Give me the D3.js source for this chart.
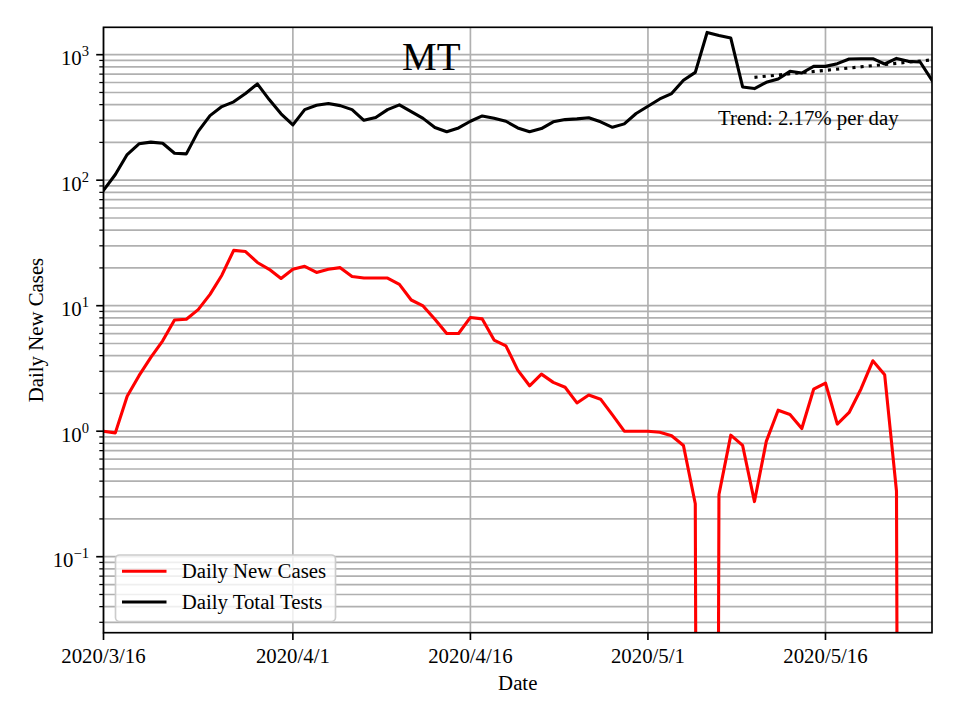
<!DOCTYPE html>
<html>
<head>
<meta charset="utf-8">
<script src="https://cdn.jsdelivr.net/npm/d3@7"></script>
<style>
  html, body { margin: 0; padding: 0; background: #fff; }
  svg { display: block; font-family: "Liberation Serif", "Times New Roman", serif; }
</style>
</head>
<body>
<svg id="chart" width="960" height="720"></svg>
<script>
// ---------------- data ----------------
const startDate = "2020-03-16";
const endDate = "2020-05-25";
const stateName = "MT";

const dailyNewCases = [1.0, 0.97, 1.90, 2.77, 3.88, 5.25, 7.7, 7.8, 9.3, 12.3,
  17.5, 27.6, 27.0, 22.1, 19.5, 16.5, 19.5, 20.6, 18.4, 19.5,
  20.1, 17.1, 16.6, 16.6, 16.6, 14.8, 11.1, 9.96, 7.8, 6.0,
  6.0, 8.06, 7.85, 5.32, 4.79, 3.07, 2.30, 2.85, 2.45, 2.24,
  1.68, 1.94, 1.80, 1.35, 1.0, 1.0, 1.0, 0.98, 0.92, 0.77,
  0.264, 0, 0.313, 0.93, 0.77, 0.275, 0.83, 1.47, 1.36, 1.05,
  2.16, 2.42, 1.14, 1.41, 2.17, 3.64, 2.82, 0.333, 0, 0,
  0];

const dailyTotalTests = [83, 111, 160, 195, 201, 197, 164, 162, 245, 327,
  386, 421, 490, 585, 439, 338, 276, 365, 395, 408,
  393, 365, 300, 316, 365, 398, 352, 311, 263, 243,
  261, 295, 325, 311, 295, 261, 243, 258, 292, 304,
  308, 314, 292, 264, 281, 340, 388, 444, 490, 625,
  723, 1504, 1423, 1358, 553, 537, 602, 641, 737, 715,
  807, 807, 848, 924, 929, 929, 843, 934, 885, 875,
  625];

const trendDates = ["2020-05-10", "2020-05-25"];
const trendValues = [660, 910];
const trendLabel = "Trend: 2.17% per day";

const xTickDates = ["2020-03-16", "2020-04-01", "2020-04-16", "2020-05-01", "2020-05-16"];
const xTickLabels = ["2020/3/16", "2020/4/1", "2020/4/16", "2020/5/1", "2020/5/16"];
const yTickValues = [0.1, 1, 10, 100, 1000];
const yTickExponents = ["\u22121", "0", "1", "2", "3"];

const seriesNames = ["Daily New Cases", "Daily Total Tests"];
const seriesColors = ["#ff0000", "#000000"];

// ---------------- layout ----------------
const parse = d3.utcParse("%Y-%m-%d");
const pL = 103.5, pR = 932, pT = 27.3, pB = 632.7;
const pW = pR - pL, pH = pB - pT;
const FS = 20.8;

const dates = d3.utcDay.range(parse(startDate), d3.utcDay.offset(parse(endDate), 1));

const x = d3.scaleUtc().domain([parse(startDate), parse(endDate)]).range([pL, pR]);
const y = d3.scaleLog().domain([0.0248, 1653]).range([pB, pT]);

const svg = d3.select("#chart");

svg.append("defs").append("clipPath").attr("id", "plotclip")
  .append("rect").attr("x", pL).attr("y", pT).attr("width", pW).attr("height", pH);

// grid lines
const minorVals = [];
for (let k = -2; k <= 3; k++) {
  for (let m = 2; m <= 9; m++) {
    const v = m * Math.pow(10, k);
    if (v >= y.domain()[0] && v <= y.domain()[1]) minorVals.push(v);
  }
}
const grid = svg.append("g").attr("stroke", "#b0b0b0").attr("stroke-width", 1.67);
grid.selectAll(".gy").data(yTickValues.concat(minorVals)).join("line")
  .attr("x1", pL).attr("x2", pR)
  .attr("y1", d => y(d)).attr("y2", d => y(d));
grid.selectAll(".gx").data(xTickDates).join("line")
  .attr("x1", d => x(parse(d))).attr("x2", d => x(parse(d)))
  .attr("y1", pT).attr("y2", pB);

// lines
const FLOOR = 1e-30;
const line = d3.line()
  .x((d, i) => x(dates[i]))
  .y(d => y(d > 0 ? d : FLOOR));

const plot = svg.append("g").attr("clip-path", "url(#plotclip)");
plot.append("path").datum(dailyNewCases)
  .attr("d", line).attr("fill", "none")
  .attr("stroke", seriesColors[0]).attr("stroke-width", 3.1)
  .attr("stroke-linejoin", "round").attr("stroke-linecap", "square");
plot.append("path").datum(dailyTotalTests)
  .attr("d", line).attr("fill", "none")
  .attr("stroke", seriesColors[1]).attr("stroke-width", 3.1)
  .attr("stroke-linejoin", "round").attr("stroke-linecap", "square");

// trend line
const trendLine = d3.line().x((d, i) => x(parse(trendDates[i]))).y(d => y(d));
plot.append("path").datum(trendValues)
  .attr("d", trendLine).attr("fill", "none")
  .attr("stroke", "#000").attr("stroke-width", 3.1)
  .attr("stroke-dasharray", "3.1,5.1");

// axes frame
svg.append("rect").attr("x", pL).attr("y", pT).attr("width", pW).attr("height", pH)
  .attr("fill", "none").attr("stroke", "#000").attr("stroke-width", 1.67);

// x ticks
const xt = svg.append("g");
xt.selectAll("line").data(xTickDates).join("line")
  .attr("x1", d => x(parse(d))).attr("x2", d => x(parse(d)))
  .attr("y1", pB).attr("y2", pB + 7.3)
  .attr("stroke", "#000").attr("stroke-width", 1.67);
xt.selectAll("text").data(xTickLabels).join("text")
  .attr("x", (d, i) => x(parse(xTickDates[i])))
  .attr("y", 662.5)
  .attr("text-anchor", "middle").attr("font-size", FS)
  .text(d => d);

// y ticks
const yt = svg.append("g");
yt.selectAll(".maj").data(yTickValues).join("line")
  .attr("x1", pL - 7.3).attr("x2", pL)
  .attr("y1", d => y(d)).attr("y2", d => y(d))
  .attr("stroke", "#000").attr("stroke-width", 1.67);
yt.selectAll(".min").data(minorVals).join("line")
  .attr("x1", pL - 4.2).attr("x2", pL)
  .attr("y1", d => y(d)).attr("y2", d => y(d))
  .attr("stroke", "#000").attr("stroke-width", 1.25);
const ylab = yt.selectAll("text").data(yTickValues).join("text")
  .attr("x", 89).attr("y", d => y(d) + 10.5)
  .attr("text-anchor", "end").attr("font-size", FS);
ylab.append("tspan").text("10");
ylab.append("tspan").attr("font-size", 14.6).attr("dy", -9)
  .text((d, i) => yTickExponents[i]);

// axis labels
svg.append("text").attr("x", (pL + pR) / 2).attr("y", 690)
  .attr("text-anchor", "middle").attr("font-size", FS).text("Date");
svg.append("text")
  .attr("transform", `translate(43,${(pT + pB) / 2}) rotate(-90)`)
  .attr("text-anchor", "middle").attr("font-size", FS).text("Daily New Cases");

// title and trend text
svg.append("text").attr("x", 431.3).attr("y", 69.5)
  .attr("text-anchor", "middle").attr("font-size", 39).text(stateName);
svg.append("text").attr("x", 718).attr("y", 125)
  .attr("font-size", FS).text(trendLabel);

// legend
const lg = svg.append("g");
lg.append("rect").attr("x", 115.5).attr("y", 555).attr("width", 220).attr("height", 66.5)
  .attr("rx", 4).attr("fill", "#fff").attr("fill-opacity", 0.8)
  .attr("stroke", "#cccccc").attr("stroke-width", 1.67);
const lrows = [571.3, 602];
seriesNames.forEach((name, i) => {
  lg.append("line").attr("x1", 122).attr("x2", 166.5)
    .attr("y1", lrows[i]).attr("y2", lrows[i])
    .attr("stroke", seriesColors[i]).attr("stroke-width", 3.1);
  lg.append("text").attr("x", 181.7).attr("y", lrows[i] + 7)
    .attr("font-size", FS).text(name);
});
</script>
</body>
</html>
